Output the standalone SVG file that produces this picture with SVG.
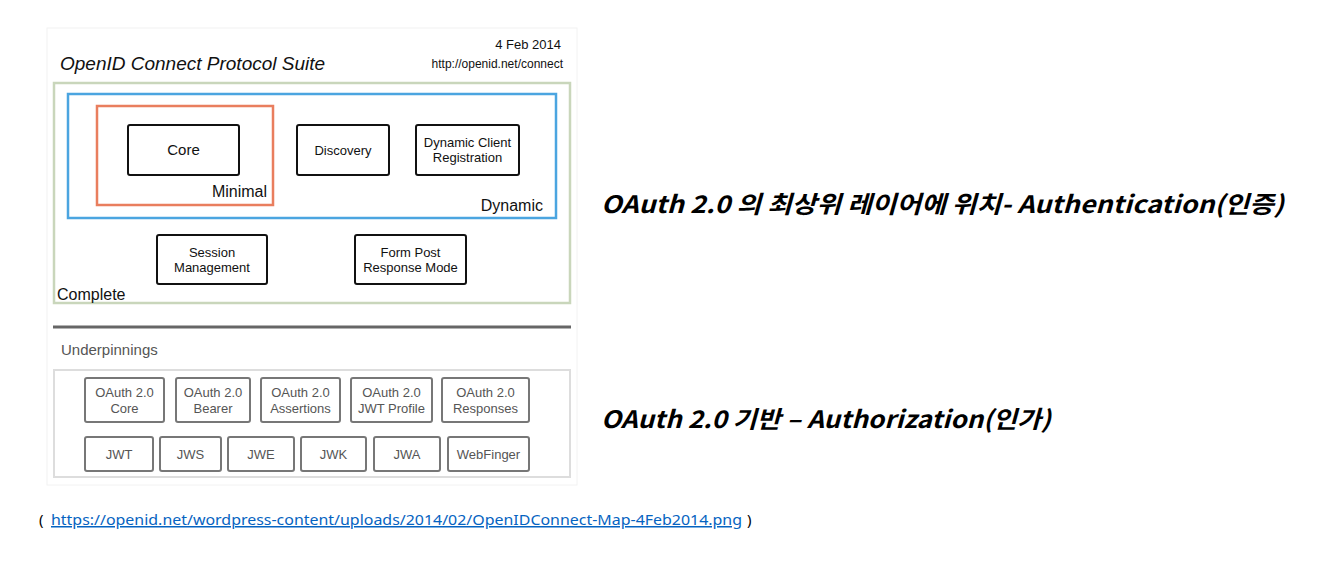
<svg xmlns="http://www.w3.org/2000/svg" width="1342" height="586" viewBox="0 0 1342 586">
<style>
.t{font-family:"Liberation Sans",Arial,sans-serif;fill:#111}
.bx{fill:#fff;stroke:#111;stroke-width:2}
.ub{fill:#fff;stroke:#777;stroke-width:2}
.ut{font-family:"Liberation Sans",Arial,sans-serif;fill:#555;font-size:13px;text-anchor:middle}
.bt{font-family:"Liberation Sans",Arial,sans-serif;fill:#111;font-size:13px;text-anchor:middle}
.kr{font-family:"Noto Sans CJK KR","Noto Sans",sans-serif;font-weight:bold;font-style:italic;font-size:24px;fill:#000}
</style>
<rect width="1342" height="586" fill="#fff"/>
<rect x="47" y="28" width="530" height="457" fill="#fff" stroke="#f2f2f2" stroke-width="1"/>
<g id="header">
<text class="t" x="60" y="70" font-size="19" font-style="italic">OpenID Connect Protocol Suite</text>
<text class="t" x="561" y="49" font-size="13" text-anchor="end">4 Feb 2014</text>
<text class="t" x="563" y="68" font-size="12" text-anchor="end">http://openid.net/connect</text>
</g>
<g id="complete">
<rect x="54" y="83" width="516" height="220" fill="none" stroke="#c9d6bb" stroke-width="2.5"/>
<text class="t" x="57" y="300" font-size="16">Complete</text>
</g>
<g id="dynamic">
<rect x="68" y="94" width="488" height="124" fill="none" stroke="#4ba5e0" stroke-width="2.5"/>
<text class="t" x="543" y="211" font-size="16" text-anchor="end">Dynamic</text>
</g>
<g id="minimal">
<rect x="97" y="106" width="176" height="99" fill="none" stroke="#e97e5e" stroke-width="2.5"/>
<text class="t" x="267" y="197" font-size="16" text-anchor="end">Minimal</text>
</g>
<g id="core">
<rect class="bx" x="128" y="125" width="111" height="50" rx="2"/>
<text class="bt" x="183.5" y="155" style="font-size:15px">Core</text>
</g>
<g id="discovery">
<rect class="bx" x="297" y="125" width="92" height="50" rx="2"/>
<text class="bt" x="343" y="155">Discovery</text>
</g>
<g id="dcr">
<rect class="bx" x="416" y="125" width="103" height="50" rx="2"/>
<text class="bt" x="467.5" y="147">Dynamic Client</text>
<text class="bt" x="467.5" y="162">Registration</text>
</g>
<g id="session">
<rect class="bx" x="157" y="235" width="110" height="49" rx="2"/>
<text class="bt" x="212" y="257">Session</text>
<text class="bt" x="212" y="272">Management</text>
</g>
<g id="formpost">
<rect class="bx" x="355" y="235" width="111" height="49" rx="2"/>
<text class="bt" x="410.5" y="257">Form Post</text>
<text class="bt" x="410.5" y="272">Response Mode</text>
</g>
<g id="underpinnings">
<line x1="53" y1="327" x2="571" y2="327" stroke="#666" stroke-width="3"/>
<text x="61" y="355" font-family="Liberation Sans,Arial,sans-serif" font-size="15" fill="#555">Underpinnings</text>
<rect x="54" y="370" width="516" height="107" fill="none" stroke="#ddd" stroke-width="2"/>
</g>
<g id="oauth-core"><rect class="ub" x="85" y="378" width="79" height="44" rx="2"/><text class="ut" x="124.5" y="397">OAuth 2.0</text><text class="ut" x="124.5" y="413">Core</text></g>
<g id="oauth-bearer"><rect class="ub" x="176" y="378" width="74" height="44" rx="2"/><text class="ut" x="213" y="397">OAuth 2.0</text><text class="ut" x="213" y="413">Bearer</text></g>
<g id="oauth-assertions"><rect class="ub" x="261" y="378" width="79" height="44" rx="2"/><text class="ut" x="300.5" y="397">OAuth 2.0</text><text class="ut" x="300.5" y="413">Assertions</text></g>
<g id="oauth-jwt"><rect class="ub" x="351" y="378" width="81" height="44" rx="2"/><text class="ut" x="391.5" y="397">OAuth 2.0</text><text class="ut" x="391.5" y="413">JWT Profile</text></g>
<g id="oauth-responses"><rect class="ub" x="442" y="378" width="87" height="44" rx="2"/><text class="ut" x="485.5" y="397">OAuth 2.0</text><text class="ut" x="485.5" y="413">Responses</text></g>
<g id="jwt"><rect class="ub" x="85" y="437" width="68" height="34" rx="2"/><text class="ut" x="119" y="459">JWT</text></g>
<g id="jws"><rect class="ub" x="160" y="437" width="61" height="34" rx="2"/><text class="ut" x="190.5" y="459">JWS</text></g>
<g id="jwe"><rect class="ub" x="228" y="437" width="66" height="34" rx="2"/><text class="ut" x="261" y="459">JWE</text></g>
<g id="jwk"><rect class="ub" x="301" y="437" width="65" height="34" rx="2"/><text class="ut" x="333.5" y="459">JWK</text></g>
<g id="jwa"><rect class="ub" x="374" y="437" width="66" height="34" rx="2"/><text class="ut" x="407" y="459">JWA</text></g>
<g id="webfinger"><rect class="ub" x="448" y="437" width="81" height="34" rx="2"/><text class="ut" x="488.5" y="459">WebFinger</text></g>
<g id="notes">
<text class="kr" x="601" y="213" textLength="683" lengthAdjust="spacingAndGlyphs">OAuth 2.0 의 최상위 레이어에 위치- Authentication(인증)</text>
<text class="kr" x="601" y="428" textLength="450" lengthAdjust="spacingAndGlyphs">OAuth 2.0 기반 – Authorization(인가)</text>
</g>
<g id="source">
<text x="39" y="525" font-family="Noto Sans,Liberation Sans,sans-serif" font-size="15" fill="#000">(</text>
<text x="51" y="525" font-family="Noto Sans,Liberation Sans,sans-serif" font-size="15" fill="#0563c1" text-decoration="underline" textLength="691" lengthAdjust="spacingAndGlyphs">https://openid.net/wordpress-content/uploads/2014/02/OpenIDConnect-Map-4Feb2014.png</text>
<text x="747" y="525" font-family="Noto Sans,Liberation Sans,sans-serif" font-size="15" fill="#000">)</text>
</g>
</svg>
